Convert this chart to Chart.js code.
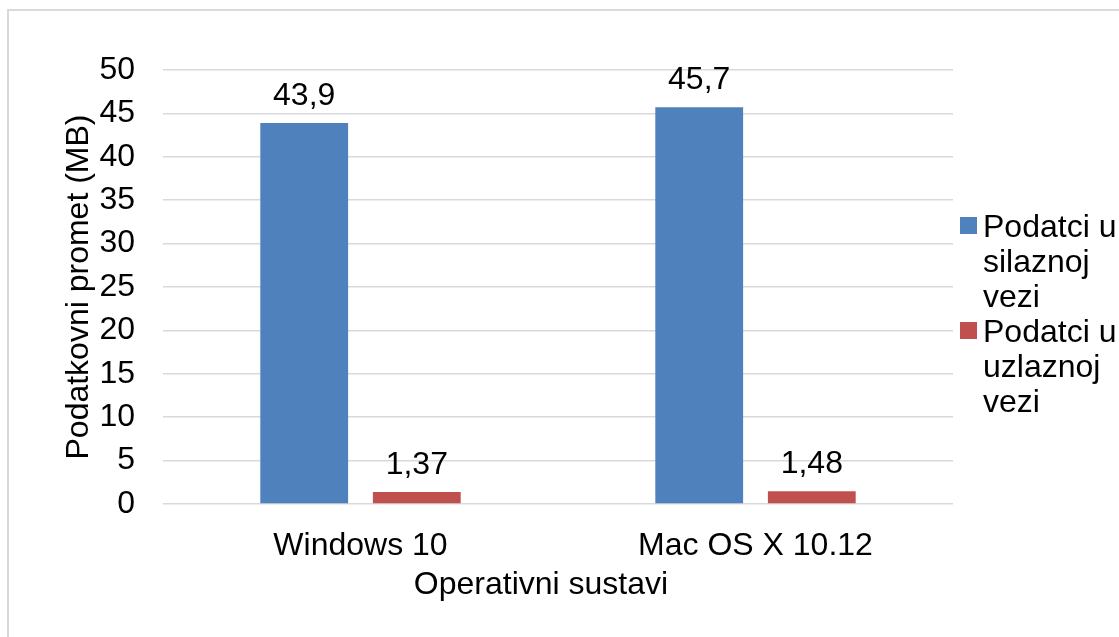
<!DOCTYPE html>
<html>
<head>
<meta charset="utf-8">
<script src="https://cdn.jsdelivr.net/npm/chart.js@4"></script>
<style>
  html, body { margin: 0; padding: 0; background: #fff; }
  #wrap { width: 1119px; height: 637px; position: relative; }
</style>
</head>
<body>
<div id="wrap"><canvas id="c" width="1119" height="637"></canvas></div>
<script>
const categories = ['Windows 10', 'Mac OS X 10.12'];
const seriesNames = ['Podatci u silaznoj vezi', 'Podatci u uzlaznoj vezi'];
const downlink = [43.9, 45.7];
const uplink = [1.37, 1.48];
const yTicks = [0, 5, 10, 15, 20, 25, 30, 35, 40, 45, 50];
const xTitle = 'Operativni sustavi';
const yTitle = 'Podatkovni promet (MB)';

const FONT = '"Liberation Sans", Arial, sans-serif';
const FS = 32;

const decorPlugin = {
  id: 'decor',
  afterDatasetsDraw(chart) {
    const ctx = chart.ctx;
    ctx.save();
    ctx.font = FS + 'px ' + FONT;
    ctx.fillStyle = '#000';
    ctx.textAlign = 'center';
    ctx.textBaseline = 'alphabetic';
    chart.data.datasets.forEach((ds, i) => {
      const meta = chart.getDatasetMeta(i);
      meta.data.forEach((bar, j) => {
        const txt = String(ds.data[j]).replace('.', ',');
        ctx.fillText(txt, bar.x, bar.y - 18);
      });
    });
    ctx.restore();
  },
  afterDraw(chart) {
    const ctx = chart.ctx;
    const area = chart.chartArea;
    ctx.save();
    ctx.strokeStyle = '#d9d9d9';
    ctx.lineWidth = 2;
    ctx.beginPath();
    ctx.moveTo(8, 637);
    ctx.lineTo(8, 10);
    ctx.lineTo(1119, 10);
    ctx.stroke();

    ctx.font = FS + 'px ' + FONT;
    ctx.fillStyle = '#000';
    ctx.textAlign = 'center';
    ctx.textBaseline = 'alphabetic';
    ctx.fillText(xTitle, 541, 594);
    ctx.save();
    ctx.translate(88, (area.top + area.bottom) / 2);
    ctx.rotate(-Math.PI / 2);
    ctx.textAlign = 'center';
    ctx.fillText(yTitle, 0, 0);
    ctx.restore();

    const lx = 960, tx = 983, maxW = 1119 - tx, lh = 35;
    let baseline = 237;
    ctx.textAlign = 'left';
    chart.data.datasets.forEach((ds) => {
      const words = ds.label.split(' ');
      const lines = [];
      let cur = '';
      words.forEach(w => {
        const test = cur ? cur + ' ' + w : w;
        if (cur && ctx.measureText(test).width > maxW) { lines.push(cur); cur = w; }
        else cur = test;
      });
      if (cur) lines.push(cur);
      ctx.fillStyle = ds.backgroundColor;
      ctx.fillRect(lx, baseline - 20, 17, 17);
      ctx.fillStyle = '#000';
      lines.forEach((ln, k) => ctx.fillText(ln, tx, baseline + k * lh));
      baseline += lines.length * lh;
    });
    ctx.restore();
  }
};

new Chart(document.getElementById('c'), {
  type: 'bar',
  data: {
    labels: categories,
    datasets: [
      { label: seriesNames[0], data: downlink, backgroundColor: '#4F81BD', categoryPercentage: 0.57, barPercentage: 0.78 },
      { label: seriesNames[1], data: uplink, backgroundColor: '#C0504D', categoryPercentage: 0.57, barPercentage: 0.78 }
    ]
  },
  options: {
    responsive: false,
    animation: false,
    devicePixelRatio: 1,
    layout: { padding: { left: 0, right: 166, top: 70, bottom: 0 } },
    plugins: { legend: { display: false }, tooltip: { enabled: false }, title: { display: false } },
    scales: {
      x: {
        grid: { display: false },
        border: { display: false },
        ticks: { color: '#000', font: { family: FONT, size: FS }, padding: 15, maxRotation: 0 },
        afterFit(scale) { scale.height = 133; }
      },
      y: {
        min: 0, max: 50,
        afterBuildTicks(scale) { scale.ticks = yTicks.map(v => ({ value: v })); },
        grid: { color: '#d9d9d9', lineWidth: 1.5, drawTicks: false },
        border: { display: false },
        ticks: { color: '#000', font: { family: FONT, size: FS }, padding: 28 },
        afterFit(scale) { scale.width = 163; }
      }
    }
  },
  plugins: [decorPlugin]
});
</script>
</body>
</html>
